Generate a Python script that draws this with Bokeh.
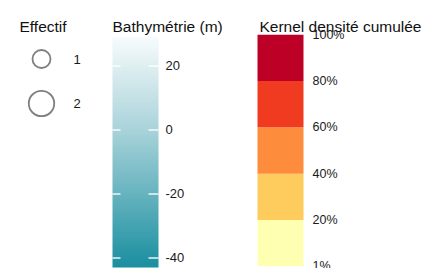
import numpy as np
from bokeh.plotting import figure
from bokeh.models import Range1d, LinearColorMapper
from bokeh.core.properties import value
from bokeh.embed import file_html
from bokeh.resources import INLINE

# ---- data ----
effectif_values = [1, 2]
effectif_labels = ["1", "2"]

bathy_min, bathy_max = -43, 29
bathy_ticks = [20, 0, -20, -40]
bathy_tick_labels = ["20", "0", "-20", "-40"]
bathy_stops = ["#1b8fa0", "#a9d3da", "#f7fbfc"]  # low, mid(0), high

kernel_breaks = ["1%", "20%", "40%", "60%", "80%", "100%"]
kernel_colors = ["#ffffb2", "#fecc5c", "#fd8d3c", "#f03b20", "#bd0026"]

FONT = value("Liberation Sans")

p = figure(width=430, height=268, x_range=Range1d(0, 430), y_range=Range1d(268, 0),
           output_backend="svg", toolbar_location=None, min_border=0,
           x_axis_location=None, y_axis_location=None)
p.grid.visible = False
p.outline_line_color = None
p.background_fill_color = "white"
p.border_fill_color = "white"
p.extra_y_ranges = {"bathy": Range1d(-43.31, 40.44), "kernel": Range1d(-0.0497, 5.741)}

# ---- titles ----
p.text(x=[19, 112, 259], y=[25.5, 25.5, 25.5],
       text=["Effectif", "Bathymétrie (m)", "Kernel densité cumulée"],
       text_font=FONT, text_font_size="15.5px", text_color="#111111",
       text_baseline="alphabetic", text_align="left")

# ---- size legend ----
ys = [58.5 + 44.5 * i for i in range(len(effectif_values))]
sizes = [18 * np.sqrt(v) for v in effectif_values]
p.scatter(x=[41] * len(ys), y=ys, size=sizes, fill_color=None,
          line_color="#7f7f7f", line_width=1.8)
p.text(x=[73] * len(ys), y=ys, text=effectif_labels, text_font=FONT,
       text_font_size="13px", text_color="#1a1a1a", text_baseline="middle")

# ---- bathymetry gradient bar ----
def hex2rgb(h):
    h = h.lstrip("#")
    return np.array([int(h[i:i + 2], 16) for i in (0, 2, 4)], dtype=float)

stop_vals = [bathy_min, 0, bathy_max]
stop_rgb = [hex2rgb(c) for c in bathy_stops]
palette = []
for t in np.linspace(bathy_min, bathy_max, 256):
    rgb = [np.interp(t, stop_vals, [c[k] for c in stop_rgb]) for k in range(3)]
    palette.append("#%02x%02x%02x" % tuple(int(round(v)) for v in rgb))
mapper = LinearColorMapper(palette=palette, low=bathy_min, high=bathy_max)
grad = np.linspace(bathy_min, bathy_max, 300).reshape(-1, 1)
p.image(image=[grad], x=112, y=bathy_min, dw=46, dh=bathy_max - bathy_min,
        color_mapper=mapper, y_range_name="bathy")
p.segment(x0=[112] * 4, x1=[120] * 4, y0=bathy_ticks, y1=bathy_ticks,
          line_color="white", line_width=1.5, line_alpha=0.9, y_range_name="bathy")
p.segment(x0=[148] * 4, x1=[158] * 4, y0=bathy_ticks, y1=bathy_ticks,
          line_color="white", line_width=1.5, line_alpha=0.9, y_range_name="bathy")
p.text(x=[165] * 4, y=bathy_ticks, text=bathy_tick_labels, text_font=FONT,
       text_font_size="13px", text_color="#1a1a1a", text_baseline="middle",
       y_range_name="bathy")

# ---- kernel bar ----
n = len(kernel_colors)
p.quad(left=[257] * n, right=[303] * n, bottom=list(range(n)),
       top=[i + 1 for i in range(n)], fill_color=kernel_colors, line_color=None,
       y_range_name="kernel")
p.text(x=[312] * len(kernel_breaks), y=list(range(len(kernel_breaks))),
       text=kernel_breaks, text_font=FONT, text_font_size="12.5px",
       text_color="#1a1a1a", text_baseline="middle", y_range_name="kernel")

open("out.html", "w").write(file_html(p, INLINE))
